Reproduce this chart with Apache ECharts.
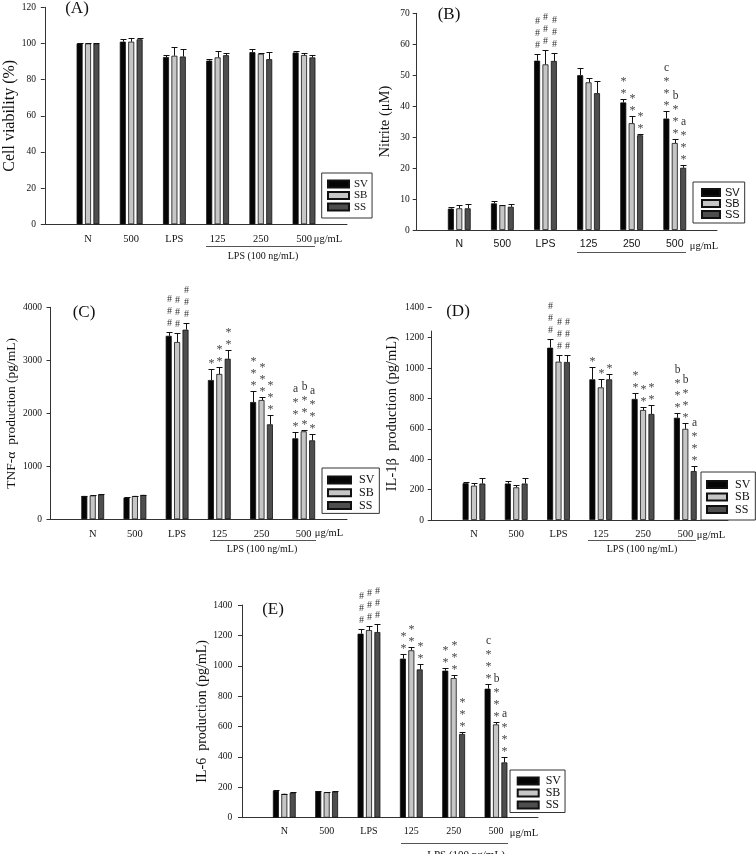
<!DOCTYPE html>
<html>
<head>
<meta charset="utf-8">
<script src="https://cdn.jsdelivr.net/npm/echarts@6.0.0/dist/echarts.min.js"></script>
<style>html,body{margin:0;padding:0;background:#fff;}#chart{width:756px;height:854px;}</style>
</head>
<body>
<div id="chart"></div>
<script>
// ---------------- data ----------------
const groups = ['N', '500', 'LPS', '125', '250', '500'];
const seriesNames = ['SV', 'SB', 'SS'];

// (A) Cell viability (%)
const viabilitySV = [100, 101, 92.5, 90.5, 95.2, 95.0];
const viabilitySB = [100, 101, 93.2, 92.3, 94.3, 93.6];
const viabilitySS = [100, 102.3, 92.8, 93.5, 91.3, 92.3];
const viabilityErrSV = [0.2, 1.4, 1.3, 0.8, 1.8, 1.0];
const viabilityErrSB = [0.2, 1.8, 4.8, 3.3, 0.3, 1.0];
const viabilityErrSS = [0.2, 0.5, 3.9, 1.5, 4.0, 1.3];
const viabilityMarkSV = ['', '', '', '', '', ''];
const viabilityMarkSB = ['', '', '', '', '', ''];
const viabilityMarkSS = ['', '', '', '', '', ''];

// (B) Nitrite (μM)
const nitriteSV = [6.9, 8.6, 54.7, 50.0, 41.2, 36.0];
const nitriteSB = [7.0, 8.0, 53.5, 47.7, 34.5, 28.1];
const nitriteSS = [7.0, 7.5, 54.6, 44.2, 30.6, 20.1];
const nitriteErrSV = [0.5, 0.9, 2.2, 2.2, 1.1, 2.5];
const nitriteErrSB = [1.0, 0.1, 4.5, 1.5, 2.2, 1.2];
const nitriteErrSS = [1.3, 0.9, 2.5, 3.8, 0.5, 0.8];
const nitriteMarkSV = ['', '', '###', '', '**', 'c***'];
const nitriteMarkSB = ['', '', '###', '', '**', 'b***'];
const nitriteMarkSS = ['', '', '###', '', '**', 'a***'];

// (C) TNF-α production (pg/mL)
const tnfSV = [440, 410, 3462, 2628, 2213, 1528];
const tnfSB = [450, 440, 3345, 2742, 2251, 1660];
const tnfSS = [470, 460, 3578, 3030, 1792, 1490];
const tnfErrSV = [5, 5, 74, 200, 207, 113];
const tnfErrSB = [5, 5, 176, 138, 50, 30];
const tnfErrSS = [5, 5, 132, 170, 182, 125];
const tnfMarkSV = ['', '', '###', '*', '***', 'a***'];
const tnfMarkSB = ['', '', '###', '**', '***', 'b***'];
const tnfMarkSS = ['', '', '###', '**', '***', 'a***'];

// (D) IL-1β production (pg/mL)
const il1SV = [242, 240, 1134, 926, 797, 673];
const il1SB = [226, 215, 1042, 873, 724, 600];
const il1SS = [240, 240, 1040, 926, 698, 322];
const il1ErrSV = [5, 18, 55, 79, 37, 31];
const il1ErrSB = [15, 15, 46, 53, 17, 37];
const il1ErrSS = [35, 38, 46, 37, 60, 31];
const il1MarkSV = ['', '', '###', '*', '**', 'b***'];
const il1MarkSB = ['', '', '###', '*', '**', 'b***'];
const il1MarkSS = ['', '', '###', '*', '**', 'a***'];

// (E) IL-6 production (pg/mL)
const il6SV = [178, 175, 1211, 1047, 968, 849];
const il6SB = [157, 168, 1235, 1102, 919, 614];
const il6SS = [165, 172, 1222, 976, 551, 364];
const il6ErrSV = [2, 2, 31, 30, 15, 29];
const il6ErrSB = [2, 2, 27, 19, 22, 18];
const il6ErrSS = [2, 2, 55, 36, 15, 33];
const il6MarkSV = ['', '', '###', '**', '**', 'c***'];
const il6MarkSB = ['', '', '###', '**', '***', 'b***'];
const il6MarkSS = ['', '', '###', '**', '***', 'a***'];

// ---------------- style / layout ----------------
const FS = "'Liberation Serif', 'Times New Roman', serif";
const FA = "'Liberation Sans', Arial, sans-serif";
const COLORS = ['#050505', '#c6c6c6', '#4e4e4e'];
const BAR_W = 6, BAR_GAP = 0.4, STEP = BAR_W * (1 + BAR_GAP);

const panels = [
  { vals: [viabilitySV, viabilitySB, viabilitySS], errs: [viabilityErrSV, viabilityErrSB, viabilityErrSS],
    marks: [viabilityMarkSV, viabilityMarkSB, viabilityMarkSS],
    grid: { left: 43, top: 7.3, width: 304, height: 217 }, xmin: -0.042, xmax: 6.995,
    ymax: 120, yint: 20, name: 'Cell viability (%)', nameSize: 16, nameGap: 21, xFont: FS, xSize: 10.5,
    legend: { left: 321.7, top: 173, itemWidth: 21, lh: 11, gap: 0.5, pad: [5.5, 4, 5.5, 5.3], font: FS, size: 11, tpad: 0 } },
  { vals: [nitriteSV, nitriteSB, nitriteSS], errs: [nitriteErrSV, nitriteErrSB, nitriteErrSS],
    marks: [nitriteMarkSV, nitriteMarkSB, nitriteMarkSS],
    grid: { left: 416.7, top: 13.3, width: 300.3, height: 216.7 }, xmin: 0.012, xmax: 6.98,
    ymax: 70, yint: 10, name: 'Nitrite (μM)', nameSize: 14.5, nameGap: 24, xFont: FA, xSize: 10.5,
    legend: { left: 693, top: 182, itemWidth: 18, lh: 11, gap: 0, pad: [5, 5, 3, 8], font: FA, size: 11, tpad: 0 } },
  { vals: [tnfSV, tnfSB, tnfSS], errs: [tnfErrSV, tnfErrSB, tnfErrSS],
    marks: [tnfMarkSV, tnfMarkSB, tnfMarkSS],
    grid: { left: 49, top: 307.3, width: 298, height: 212 }, xmin: -0.036, xmax: 7.026,
    ymax: 4000, yint: 1000, name: 'TNF-α  production (pg/mL)', nameSize: 13.5, nameGap: 31, xFont: FS, xSize: 10.5,
    legend: { left: 322, top: 468, itemWidth: 23, lh: 12, gap: 0.7, pad: [6, 5, 2, 5], font: FS, size: 12, tpad: 3 } },
  { vals: [il1SV, il1SB, il1SS], errs: [il1ErrSV, il1ErrSB, il1ErrSS],
    marks: [il1MarkSV, il1MarkSB, il1MarkSS],
    grid: { left: 431, top: 307.3, width: 297, height: 212.7 }, xmin: -0.017, xmax: 7.01,
    ymax: 1400, yint: 200, name: 'IL-1β  production (pg/mL)', nameSize: 14.5, nameGap: 31, xFont: FS, xSize: 10.5,
    legend: { left: 701, top: 472, itemWidth: 20, lh: 11, gap: 0.5, pad: [6.5, 5, 4.5, 5], font: FS, size: 12, tpad: 3 } },
  { vals: [il6SV, il6SB, il6SS], errs: [il6ErrSV, il6ErrSB, il6ErrSS],
    marks: [il6MarkSV, il6MarkSB, il6MarkSS],
    grid: { left: 239.3, top: 605, width: 298.7, height: 212.7 }, xmin: -0.063, xmax: 6.992,
    ymax: 1400, yint: 200, name: 'IL-6  production (pg/mL)', nameSize: 14, nameGap: 30, xFont: FS, xSize: 10,
    legend: { left: 510, top: 770, itemWidth: 21, lh: 11.3, gap: 0, pad: [5, 4, 1.5, 6.7], font: FS, size: 12, tpad: 2 } }
];

const option = { animation: false, backgroundColor: '#fff', grid: [], xAxis: [], yAxis: [], series: [], legend: [], graphic: [] };

panels.forEach((p, gi) => {
  option.grid.push(Object.assign({ containLabel: false }, p.grid));
  option.xAxis.push({
    type: 'value', gridIndex: gi, min: p.xmin, max: p.xmax,
    axisLine: { show: true, onZero: false, lineStyle: { color: '#333', width: 1 } },
    axisTick: { show: false }, splitLine: { show: false },
    axisLabel: { customValues: [1, 2, 3, 4, 5, 6], formatter: v => groups[Math.round(v) - 1] || '',
      fontFamily: p.xFont, fontSize: p.xSize, color: '#111', margin: 9 }
  });
  option.yAxis.push({
    type: 'value', gridIndex: gi, min: 0, max: p.ymax, interval: p.yint,
    name: p.name, nameLocation: 'middle', nameGap: p.nameGap,
    nameTextStyle: { fontFamily: FS, fontSize: p.nameSize, color: '#111' },
    axisLine: { show: gi !== 3, lineStyle: { color: '#333', width: 1 } },
    axisTick: { show: true, length: 4, lineStyle: { color: '#333' } },
    splitLine: { show: false },
    axisLabel: { fontFamily: FS, fontSize: 9.5, color: '#111', margin: 7, formatter: v => String(v) }
  });
  for (let k = 0; k < 3; k++) {
    option.series.push({
      type: 'bar', name: seriesNames[k], xAxisIndex: gi, yAxisIndex: gi,
      data: p.vals[k].map((v, i) => [i + 1, v]),
      barWidth: BAR_W, barGap: (BAR_GAP * 100) + '%',
      itemStyle: { color: COLORS[k], borderColor: '#111', borderWidth: 0.8 },
      silent: true
    });
  }
  const cdata = [];
  for (let k = 0; k < 3; k++) for (let i = 0; i < 6; i++) cdata.push([i + 1, k, p.vals[k][i], p.errs[k][i]]);
  option.series.push({
    type: 'custom', xAxisIndex: gi, yAxisIndex: gi, data: cdata, z: 5, silent: true, clip: false,
    encode: { x: 0, y: 2 },
    renderItem: (params, api) => {
      const x = api.value(0), k = api.value(1), v = api.value(2), e = api.value(3);
      const b = api.coord([x, v]);
      const t = api.coord([x, v + e]);
      const cx = Math.round(b[0] + (k - 1) * STEP) + 0.5;
      const ty = Math.round(t[1]) + 0.5;
      const ch = [
        { type: 'line', shape: { x1: cx, y1: b[1], x2: cx, y2: ty }, style: { stroke: '#111', lineWidth: 1 } },
        { type: 'line', shape: { x1: cx - 3, y1: ty, x2: cx + 3, y2: ty }, style: { stroke: '#111', lineWidth: 1 } }
      ];
      const m = p.marks[k][x - 1];
      let y = ty - 9;
      for (let j = m.length - 1; j >= 0; j--) {
        const c = m[j];
        const isStar = c === '*', isHash = c === '#';
        if (j < m.length - 1 && !isStar && !isHash) y += 1.5;
        ch.push({ type: 'text', style: {
          text: c, x: cx, y: y + (isStar ? 3.5 : 0), textAlign: 'center', textVerticalAlign: 'middle',
          font: (isStar ? '12px ' : isHash ? '10px ' : '11.5px ') + FS, fill: isStar ? '#444' : '#333' } });
        y -= 12;
      }
      return { type: 'group', children: ch };
    }
  });
  const L = p.legend;
  option.legend.push({
    data: seriesNames, orient: 'vertical', left: L.left, top: L.top,
    itemWidth: L.itemWidth, itemHeight: 7, itemGap: L.gap, padding: L.pad,
    borderColor: '#333', borderWidth: 1, backgroundColor: '#fff', icon: 'rect', selectedMode: false,
    textStyle: { fontFamily: L.font, fontSize: L.size, color: '#111', lineHeight: L.lh, padding: [0, 0, 0, L.tpad] }
  });
});

function txt(text, x, y, size, font) {
  return { type: 'text', x: x, y: y, silent: true,
    style: { text: text, fontFamily: font || FS, fontSize: size, fill: '#111', textAlign: 'center', textVerticalAlign: 'middle' } };
}
function hline(x1, x2, y) {
  return { type: 'line', silent: true, shape: { x1: x1, y1: y, x2: x2, y2: y }, style: { stroke: '#555', lineWidth: 1 } };
}
option.graphic = [
  txt('(A)', 77, 9, 17), txt('(B)', 449, 15, 17), txt('(C)', 84, 313, 17), txt('(D)', 458, 312, 17), txt('(E)', 273, 610, 17),
  txt('μg/mL', 328, 239, 10.5), txt('μg/mL', 704, 246, 10.5), txt('μg/mL', 329, 533, 10.5), txt('μg/mL', 711, 535, 10.5), txt('μg/mL', 524, 833, 10.5),
  hline(206, 315, 246.5), hline(577, 686, 252.5), hline(210, 316, 540.5), hline(588, 696, 540.5), hline(401, 508, 843.5),
  txt('LPS (100 ng/mL)', 263, 256, 10), txt('LPS (100 ng/mL)', 262, 549, 10), txt('LPS (100 ng/mL)', 642, 549, 10), txt('LPS (100 ng/mL)', 466, 855, 11),
  { type: 'line', silent: true, shape: { x1: 431.5, y1: 520, x2: 431.5, y2: 330.7 }, style: { stroke: '#333', lineWidth: 1 } }
];

const chart = echarts.init(document.getElementById('chart'), null, { renderer: 'canvas' });
chart.setOption(option);
</script>
</body>
</html>
